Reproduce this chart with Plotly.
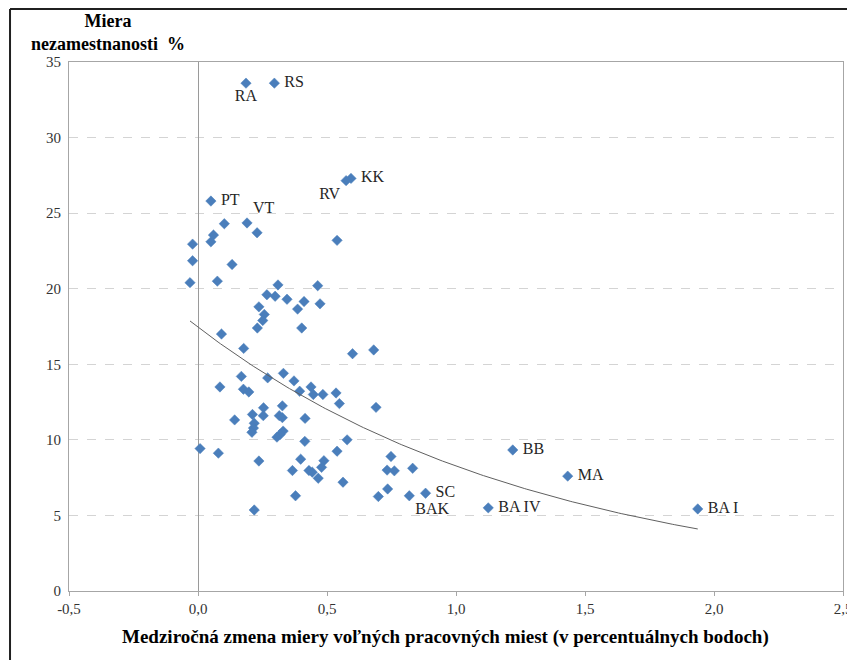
import numpy as np
import plotly.graph_objects as go

# --- data ---
x_change = [0.186, 0.296, 0.593, 0.574, 0.050, 0.102, 0.190, 0.229, 0.060, 0.539,
            -0.021, 0.050, -0.021, 0.132, -0.031, 0.075, 0.310, 0.464, 0.267, 0.299,
            0.345, 0.411, 0.473, 0.386, 0.236, 0.257, 0.251, 0.230, 0.402, 0.091,
            0.177, 0.599, 0.681, 0.168, 0.331, 0.270, 0.372, 0.085, 0.176, 0.197,
            0.394, 0.438, 0.447, 0.484, 0.535, 0.548, 0.690, 0.142, 0.254, 0.211,
            0.253, 0.327, 0.315, 0.327, 0.415, 0.218, 0.215, 0.209, 0.330, 0.318,
            0.306, 0.414, 0.578, 0.008, 0.079, 0.236, 0.398, 0.488, 0.539, 0.748,
            0.479, 0.366, 0.430, 0.443, 0.733, 0.761, 0.466, 0.562, 0.735, 0.699,
            0.378, 0.218, 0.832, 0.819, 0.882, 1.125, 1.220, 1.433, 1.937]
y_unemp = [33.6, 33.6, 27.3, 27.15, 25.8, 24.3, 24.35, 23.7, 23.55, 23.2,
           22.95, 23.1, 21.85, 21.6, 20.4, 20.5, 20.25, 20.2, 19.6, 19.5,
           19.3, 19.15, 19.0, 18.65, 18.8, 18.3, 17.9, 17.4, 17.4, 17.0,
           16.05, 15.7, 15.95, 14.2, 14.4, 14.1, 13.9, 13.5, 13.35, 13.17,
           13.22, 13.5, 13.0, 13.0, 13.1, 12.4, 12.15, 11.32, 12.12, 11.68,
           11.6, 12.25, 11.6, 11.47, 11.42, 11.1, 10.78, 10.5, 10.58, 10.35,
           10.18, 9.9, 10.0, 9.42, 9.12, 8.6, 8.72, 8.62, 9.25, 8.9,
           8.18, 7.97, 7.97, 7.86, 8.0, 7.95, 7.46, 7.2, 6.75, 6.25,
           6.3, 5.36, 8.12, 6.3, 6.47, 5.5, 9.33, 7.6, 5.43]
point_labels = ["RA", "RS", "KK", "RV", "PT", "", "VT"] + [""] * 76 + \
               ["BAK", "SC", "BA IV", "BB", "MA", "BA I"]
label_pos = ["bottom center", "middle right", "middle right", "bottom left",
             "middle right", "middle right", "top right"] + ["middle right"] * 76 + \
            ["bottom right", "middle right", "middle right", "middle right",
             "middle right", "middle right"]

x_tick_vals = [-0.5, 0.0, 0.5, 1.0, 1.5, 2.0, 2.5]
x_tick_text = ["-0,5", "0,0", "0,5", "1,0", "1,5", "2,0", "2,5"]
y_tick_vals = [0, 5, 10, 15, 20, 25, 30, 35]

x_title = "Medziročná zmena miery voľných pracovných miest (v percentuálnych bodoch)"
y_title = "Miera<br>nezamestnanosti  %"

# a little extra gap for labels placed to the right of their markers
shown_labels = [("\u00a0" + t) if (t and p == "middle right") else t
                for t, p in zip(point_labels, label_pos)]

# exponential trendline (least squares on ln y, like the spreadsheet's trendline)
xa = np.array(x_change)
ya = np.array(y_unemp)
b, ln_a = np.polyfit(xa, np.log(ya), 1)
x_fit = np.linspace(xa.min(), xa.max(), 200)
y_fit = np.exp(ln_a) * np.exp(b * x_fit)

SERIF = "Liberation Serif, Times New Roman, serif"

fig = go.Figure()
fig.add_trace(go.Scatter(
    x=x_change, y=y_unemp, mode="markers+text",
    text=shown_labels, textposition=label_pos,
    textfont=dict(family=SERIF, size=16, color="#262626"),
    marker=dict(symbol="diamond", size=8, color="#4A7EBB",
                line=dict(width=0.5, color="#4A7EBB")),
    cliponaxis=False, showlegend=False, hoverinfo="x+y"))
fig.add_trace(go.Scatter(
    x=x_fit, y=y_fit, mode="lines",
    line=dict(color="#606060", width=1),
    showlegend=False, hoverinfo="skip"))

# the page body adds an 8 px offset, so the figure is sized/margined to compensate
fig.update_layout(
    width=847, height=652,
    margin=dict(l=61, r=12, t=54, b=69),
    paper_bgcolor="white", plot_bgcolor="white",
    font=dict(family=SERIF, size=15, color="#333333"),
    xaxis=dict(range=[-0.5, 2.5], tickvals=x_tick_vals, ticktext=x_tick_text,
               showgrid=False, zeroline=True, zerolinecolor="#9a9a9a", zerolinewidth=1,
               showline=True, linecolor="#a6a6a6", linewidth=1, mirror=True,
               ticks="outside", ticklen=4, tickcolor="#a6a6a6", automargin=False,
               tickfont=dict(family=SERIF, size=15, color="#333333")),
    yaxis=dict(range=[0, 35], tickvals=y_tick_vals,
               showgrid=True, gridcolor="#d4d4d4", griddash="dash", gridwidth=1,
               zeroline=False, showline=True, linecolor="#a6a6a6", linewidth=1, mirror=True,
               ticks="", ticklabelstandoff=4, automargin=False,
               tickfont=dict(family=SERIF, size=15, color="#333333")),
    annotations=[
        dict(text="<b>" + y_title + "</b>", xref="paper", yref="paper",
             x=0.05, y=1.0, yshift=6, xanchor="center", yanchor="bottom", showarrow=False,
             align="center", font=dict(family=SERIF, size=18, color="#000000")),
        dict(text="<b>" + x_title + "</b>", xref="paper", yref="paper",
             x=0.486, y=0.0, yshift=-46, xanchor="center", yanchor="middle", showarrow=False,
             font=dict(family=SERIF, size=19, color="#000000")),
    ],
    shapes=[dict(type="line", xref="paper", yref="paper", x0=-0.0762, x1=1.03, y0=1.1002, y1=1.1002,
                 line=dict(color="#202020", width=2)),
            dict(type="line", xref="paper", yref="paper", x0=-0.0762, x1=-0.0762, y0=-0.16, y1=1.1002,
                 line=dict(color="#202020", width=2))],
)

fig.write_html("out.html")
